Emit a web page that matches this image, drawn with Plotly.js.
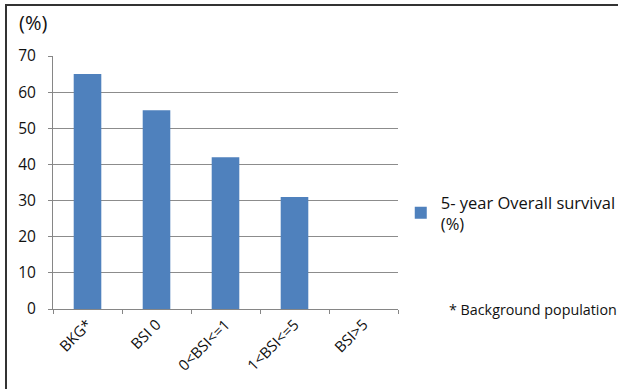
<!DOCTYPE html>
<html>
<head>
<meta charset="utf-8">
<script src="https://cdn.plot.ly/plotly-3.0.1.min.js"></script>
<style>
html,body{margin:0;padding:0;background:#fff;}
#wrap{position:relative;width:618px;height:389px;overflow:hidden;}
#chart{width:618px;height:389px;}
#frame{position:absolute;left:5px;top:4px;width:620px;height:400px;border-left:2px solid #333;border-top:2px solid #333;pointer-events:none;}
</style>
</head>
<body>
<div id="wrap"><div id="chart"></div><div id="frame"></div></div>
<script>
const categories = ["BKG*", "BSI 0", "0<BSI<=1", "1<BSI<=5", "BSI>5"];
const survival = [65, 55, 42, 31, 0];
const yTicks = [0, 10, 20, 30, 40, 50, 60, 70];
const seriesName = "5- year Overall survival<br>(%)";
const yUnit = "(%)";
const footnote = "* Background population";

const font = "Open Sans, Liberation Sans, sans-serif";

Plotly.newPlot("chart", [{
  type: "bar",
  x: categories,
  y: survival,
  name: seriesName,
  marker: {color: "#4f81bd"},
  showlegend: true
}], {
  width: 618, height: 389,
  margin: {l: 53, r: 220, t: 56, b: 80, autoexpand: false},
  paper_bgcolor: "#fff", plot_bgcolor: "#fff",
  bargap: 0.6,
  font: {family: font, size: 15, color: "#111"},
  xaxis: {
    type: "category",
    tickangle: -45,
    showline: true, linecolor: "#868686", linewidth: 1,
    ticks: "outside", tickson: "boundaries", ticklen: 4, tickcolor: "#868686",
    showgrid: false,
    tickfont: {family: font, size: 15, color: "#111"}
  },
  yaxis: {
    range: [0, 70],
    tickvals: yTicks,
    showline: true, linecolor: "#868686", linewidth: 1,
    ticks: "outside", ticklen: 4, tickcolor: "#868686",
    showgrid: true, gridcolor: "#8c8c8c", gridwidth: 1,
    zeroline: false,
    tickfont: {family: font, size: 15.5, color: "#111"},
    ticklabelstandoff: 9
  },
  legend: {
    x: 1.008, y: 0.38, xref: "paper", yref: "paper",
    xanchor: "left", yanchor: "middle",
    font: {family: font, size: 16.5, color: "#111"},
    itemwidth: 30, tracegroupgap: 0
  },
  annotations: [
    {text: yUnit, xref: "paper", yref: "paper", x: -0.104, y: 1.131, xanchor: "left", yanchor: "middle", showarrow: false, font: {family: font, size: 20, color: "#111"}},
    {text: footnote, xref: "paper", yref: "paper", x: 1.142, y: 0.0, xanchor: "left", yanchor: "middle", showarrow: false, font: {family: font, size: 14.3, color: "#111"}}
  ]
}, {displayModeBar: false, staticPlot: true});
</script>
</body>
</html>
